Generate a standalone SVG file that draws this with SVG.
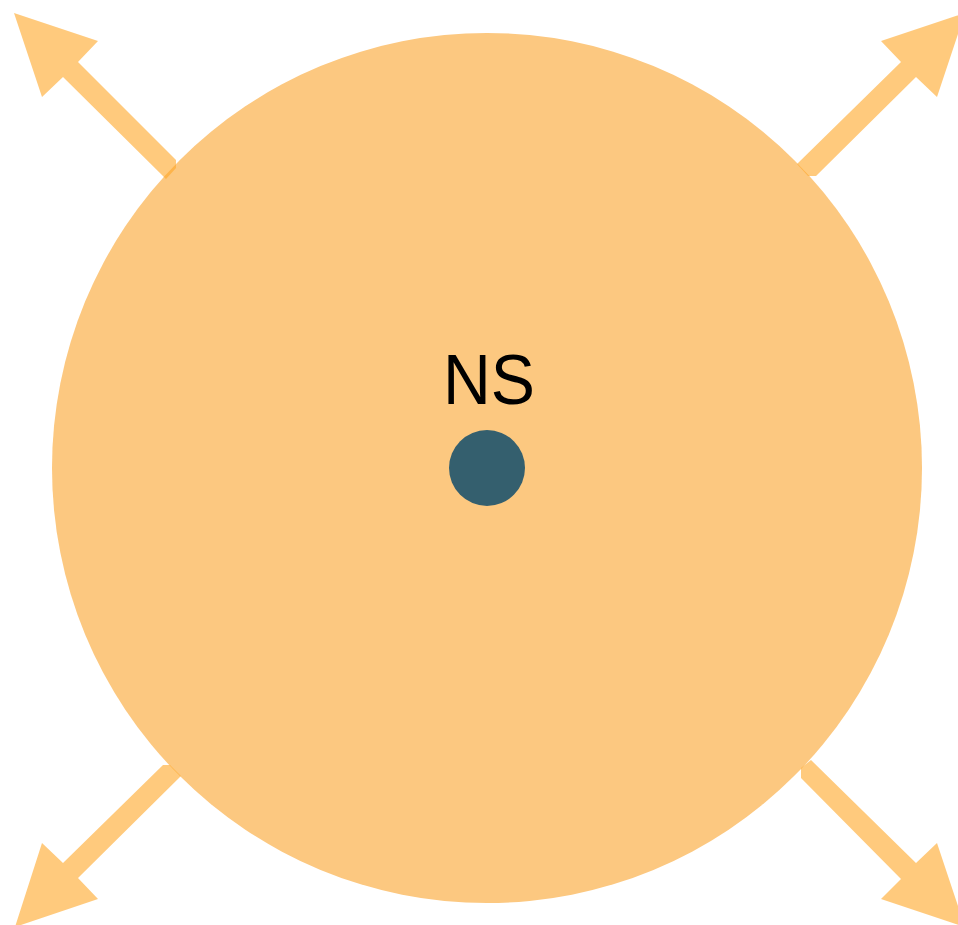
<svg xmlns="http://www.w3.org/2000/svg" width="958" height="925" viewBox="0 0 958 925">
<style>
.arrow{fill:#FFA726;fill-opacity:0.6}
.label{font-family:"Liberation Sans",Arial,sans-serif;font-size:71px;fill:#000}
</style>
<rect width="958" height="925" fill="#fff"/>
<g id="ns-area">
<circle cx="487" cy="468" r="435" fill="#FCC880"/>
</g>
<g id="connectors">
<polygon class="arrow" points="14,13 98,41 78,62 176,160 176,168 166,179 63,77 42,97"/>
<polygon class="arrow" points="965,13 881,41 901,62 797,164 808,176 816,176 916,77 937,97"/>
<polygon class="arrow" points="15,927 42,843 63,863 163,765 170,765 181,776 78,878 98,899"/>
<polygon class="arrow" points="965,927 937,843 916,863 811,760 801,768 801,778 901,879 881,899"/>
</g>
<g id="ns">
<text class="label" x="489" y="404" text-anchor="middle" textLength="92" lengthAdjust="spacingAndGlyphs">NS</text>
<circle cx="487" cy="468" r="38" fill="#345F6E"/>
</g>
</svg>
